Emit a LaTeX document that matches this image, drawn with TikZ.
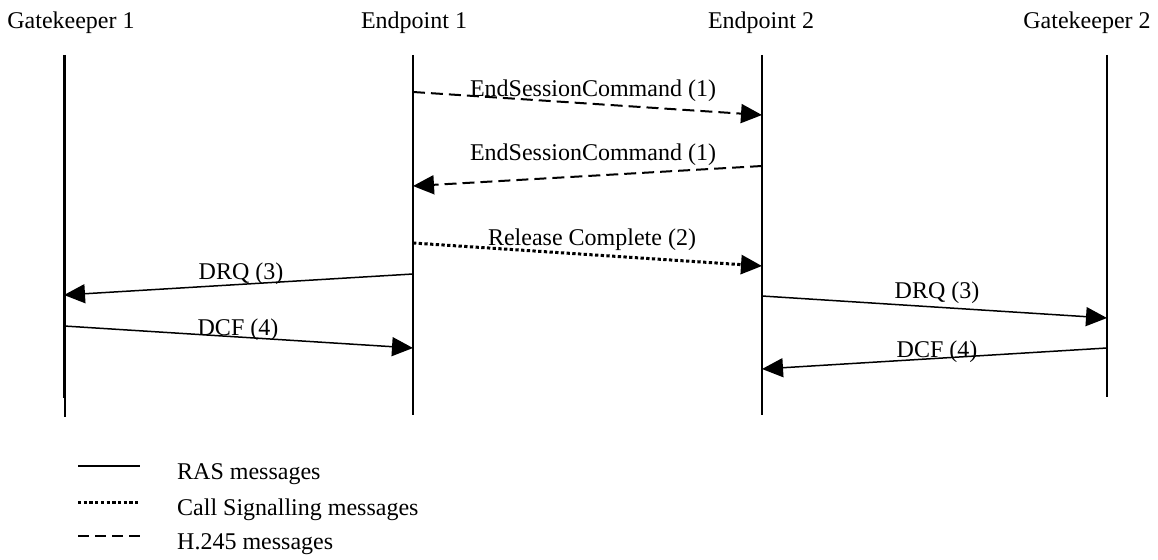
\documentclass[tikz,border=0pt]{standalone}
\usepackage{fontspec}
\setmainfont{Liberation Serif}
\usetikzlibrary{arrows.meta}
\begin{document}
\begin{tikzpicture}[x=1pt,y=-1pt,
  lbl/.style={font=\fontsize{24}{28}\selectfont, inner sep=0pt, anchor=base},
  life/.style={line width=1.5pt},
  msg/.style={line width=1.5pt,-{Triangle[length=21pt,width=19pt]}},
  ras/.style={msg},
  h245/.style={msg, dash pattern=on 12pt off 6pt, line width=2pt},
  sig/.style={msg, dash pattern=on 3.3pt off 2.4pt, line width=3pt},
  leg/.style={line width=1.8pt}]
\useasboundingbox (0,0) rectangle (1158,559);
% headers
\node[lbl] (h1) at (71,29) {Gatekeeper 1};
\node[lbl] (h2) at (414,29) {Endpoint 1};
\node[lbl] (h3) at (761,29) {Endpoint 2};
\node[lbl] (h4) at (1087,29) {Gatekeeper 2};
% lifelines
\coordinate (g1t) at (63.5,55);  \coordinate (g1b) at (63.5,398);
\coordinate (g1tb) at (65,55); \coordinate (g1bb) at (65,417);
\coordinate (e1t) at (413,55); \coordinate (e1b) at (413,415);
\coordinate (e2t) at (762,55); \coordinate (e2b) at (762,415);
\coordinate (g2t) at (1107,55); \coordinate (g2b) at (1107,397);
\draw[life] (g1t) -- (g1b);
\draw[life] (g1tb) -- (g1bb);
\draw[life] (e1t) -- (e1b);
\draw[life] (e2t) -- (e2b);
\draw[life] (g2t) -- (g2b);
% message endpoints
\coordinate (m1a) at (413,92);  \coordinate (m1b) at (762,115);
\coordinate (m2a) at (762,166); \coordinate (m2b) at (413,186);
\coordinate (m3a) at (413,243); \coordinate (m3b) at (762,266);
\coordinate (m4a) at (413,274); \coordinate (m4b) at (64,295);
\coordinate (m5a) at (64,326);  \coordinate (m5b) at (413,348);
\coordinate (m6a) at (762,296); \coordinate (m6b) at (1107,318);
\coordinate (m7a) at (1107,348);\coordinate (m7b) at (762,369);
\draw[h245] (m1a) -- (m1b);
\draw[h245] (m2a) -- (m2b);
\draw[sig] (m3a) -- (m3b);
\draw[ras] (m4a) -- (m4b);
\draw[ras] (m5a) -- (m5b);
\draw[ras] (m6a) -- (m6b);
\draw[ras] (m7a) -- (m7b);
% labels
\node[lbl] (l1) at (593,97) {EndSessionCommand (1)};
\node[lbl] (l2) at (593,160) {EndSessionCommand (1)};
\node[lbl] (l3) at (592,245) {Release Complete (2)};
\node[lbl] (l4) at (241,279) {DRQ (3)};
\node[lbl] (l5) at (238,335) {DCF (4)};
\node[lbl] (l6) at (937,298) {DRQ (3)};
\node[lbl] (l7) at (937,357) {DCF (4)};
% legend
\coordinate (r1a) at (78,466); \coordinate (r1b) at (140,466);
\coordinate (r2a) at (78,502); \coordinate (r2b) at (140,502);
\coordinate (r3a) at (78,536); \coordinate (r3b) at (140,536);
\draw[leg] (r1a) -- (r1b);
\draw[leg, line width=3pt, dash pattern=on 3.3pt off 2.4pt] (r2a) -- (r2b);
\draw[leg, line width=2.5pt, dash pattern=on 11pt off 6pt] (r3a) -- (r3b);
\node[lbl, anchor=base west] (t1) at (177,479) {RAS messages};
\node[lbl, anchor=base west] (t2) at (177,515) {Call Signalling messages};
\node[lbl, anchor=base west] (t3) at (177,549) {H.245 messages};
\end{tikzpicture}
\end{document}
